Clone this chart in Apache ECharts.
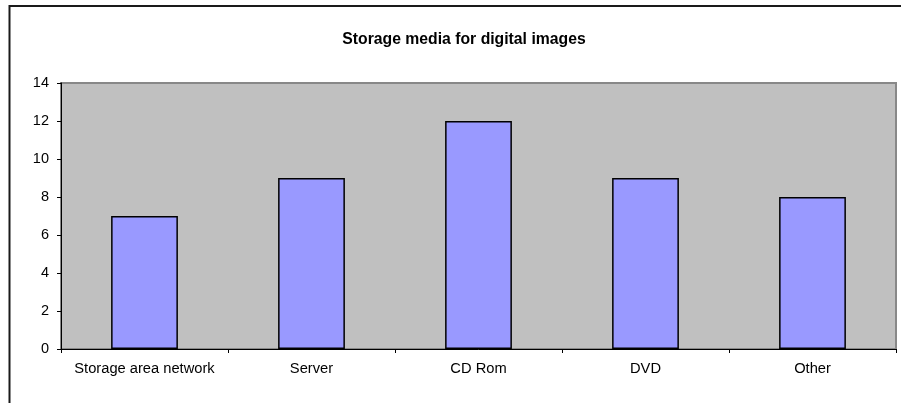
<!DOCTYPE html>
<html>
<head>
<meta charset="utf-8">
<script src="https://cdn.jsdelivr.net/npm/echarts@6/dist/echarts.min.js"></script>
<style>
  html, body { margin: 0; padding: 0; background: #fff; }
  #chart { width: 901px; height: 403px; }
</style>
</head>
<body>
<div id="chart"></div>
<script>
// Survey counts per storage medium
const titleText = 'Storage media for digital images';
const categories = ['Storage area network', 'Server', 'CD Rom', 'DVD', 'Other'];
const counts = [7, 9, 12, 9, 8];
const yMin = 0, yMax = 14, yStep = 2;

const FONT = '"Liberation Sans", Arial, sans-serif';

const chart = echarts.init(document.getElementById('chart'), null, { renderer: 'canvas' });

chart.setOption({
  animation: false,
  backgroundColor: '#ffffff',
  title: {
    text: titleText,
    left: 459,
    top: 27,
    textAlign: 'center',
    textStyle: { fontFamily: FONT, fontSize: 15.75, fontWeight: 'bold', color: '#000' }
  },
  graphic: [{
    type: 'rect',
    shape: { x: 9.5, y: 6, width: 905, height: 405 },
    style: { fill: null, stroke: '#1a1a1a', lineWidth: 2 },
    silent: true
  }],
  grid: {
    left: 61, right: 5, top: 83, bottom: 54,
    show: true,
    backgroundColor: '#c0c0c0',
    borderColor: '#888888',
    borderWidth: 2
  },
  xAxis: {
    type: 'category',
    data: categories,
    axisLine: { show: true, lineStyle: { color: '#000', width: 1 } },
    axisTick: { show: true, length: 4, alignWithLabel: false, lineStyle: { color: '#000' } },
    axisLabel: { fontFamily: FONT, fontSize: 14.7, color: '#000', margin: 12, interval: 0 },
    splitLine: { show: false }
  },
  yAxis: {
    type: 'value',
    min: yMin, max: yMax, interval: yStep,
    axisLine: { show: true, lineStyle: { color: '#000', width: 1 } },
    axisTick: { show: true, length: 4, lineStyle: { color: '#000' } },
    axisLabel: { fontFamily: FONT, fontSize: 14.5, color: '#000', margin: 12 },
    splitLine: { show: false }
  },
  series: [{
    type: 'bar',
    data: counts,
    barWidth: '40%',
    itemStyle: { color: '#9999ff', borderColor: '#000', borderWidth: 1.5 }
  }]
});
</script>
</body>
</html>
